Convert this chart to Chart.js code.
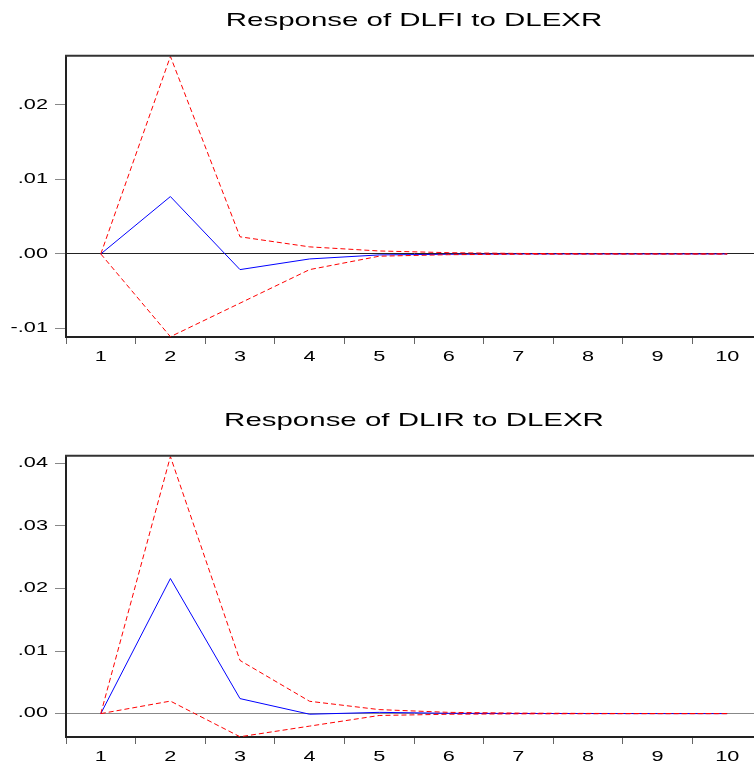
<!DOCTYPE html>
<html>
<head>
<meta charset="utf-8">
<script src="https://cdn.jsdelivr.net/npm/chart.js@4.4.0/dist/chart.umd.min.js"></script>
<style>
  html, body { margin: 0; padding: 0; background: #fff; overflow: hidden; }
  canvas { position: absolute; left: 0; }
  #chartTop { top: 0; }
  #chartBottom { top: 400px; }
</style>
</head>
<body>
<canvas id="chartTop" width="762" height="370"></canvas>
<canvas id="chartBottom" width="762" height="370"></canvas>
<script>
// Impulse responses, periods 1..10
const periods = ['1', '2', '3', '4', '5', '6', '7', '8', '9', '10'];

const dlfiResp  = [0, 0.0077, -0.0021, -0.00067, -0.00013, -0.00004, 0, 0, 0, 0];
const dlfiUpper = [0, 0.0265, 0.0023, 0.00095, 0.0004, 0.00017, 0.00007, 0.00003, 0.00001, 0];
const dlfiLower = [0, -0.0111, -0.0066, -0.0021, -0.0003, -0.0001, -0.00004, -0.00002, -0.00001, 0];

const dlirResp  = [0, 0.0216, 0.0024, -0.0001, 0.0002, 0.00005, 0.00002, 0.00001, 0, 0];
const dlirUpper = [0, 0.0411, 0.0085, 0.00197, 0.00064, 0.0002, 0.00008, 0.00003, 0.00001, 0];
const dlirLower = [0, 0.0020, -0.0037, -0.0020, -0.0003, -0.0001, -0.00004, -0.00002, -0.00001, 0];

// axis ranges
const dlfiRange = [-0.01114, 0.02658];
const dlirRange = [-0.00374, 0.04122];

const FONT = "'Liberation Sans', Arial, sans-serif";
const TEXT_STRETCH = 1.55;   // the source graph has wide, stretched lettering

// draw all canvas text a bit wider, anchored at its own x
function stretchText(canvas) {
  const ctx = canvas.getContext('2d');
  const fill = ctx.fillText.bind(ctx);
  ctx.fillText = function(text, x, y) {
    ctx.save();
    ctx.translate(x, y);
    ctx.scale(TEXT_STRETCH, 1);
    fill(text, 0, 0);
    ctx.restore();
  };
}

// ".02", "-.01" style labels
function fmtTick(v) {
  return Number(v).toFixed(2).replace('0.', '.');
}

const topFrame = {
  id: 'topFrame',
  afterDraw(chart) {
    const { ctx, chartArea } = chart;
    ctx.save();
    ctx.strokeStyle = '#333';
    ctx.lineWidth = 2;
    ctx.beginPath();
    ctx.moveTo(chartArea.left - 1, chartArea.top);
    ctx.lineTo(chartArea.right, chartArea.top);
    ctx.stroke();
    ctx.restore();
  }
};

function renderResponse(canvasId, title, resp, upper, lower, yRange, zeroColor) {
  const canvas = document.getElementById(canvasId);
  stretchText(canvas);

  return new Chart(canvas, {
    type: 'line',
    data: {
      labels: periods,
      datasets: [
        {
          data: upper,
          borderColor: '#ff0000',
          borderWidth: 1,
          borderDash: [5, 3],
          pointRadius: 0,
          tension: 0
        },
        {
          data: lower,
          borderColor: '#ff0000',
          borderWidth: 1,
          borderDash: [5, 3],
          pointRadius: 0,
          tension: 0
        },
        {
          data: resp,
          borderColor: '#0000ff',
          borderWidth: 1,
          pointRadius: 0,
          tension: 0
        }
      ]
    },
    options: {
      responsive: false,
      animation: false,
      devicePixelRatio: 1,
      layout: { padding: 0 },
      plugins: {
        legend: { display: false },
        tooltip: { enabled: false },
        title: {
          display: true,
          fullSize: false,
          text: title,
          color: '#000',
          font: { family: FONT, size: 19, weight: 'normal' },
          padding: { top: 9, bottom: 24 }
        }
      },
      scales: {
        x: {
          offset: true,
          afterFit(scale) { scale.height = 33; },
          border: { color: '#222', width: 2 },
          grid: {
            offset: true,
            drawOnChartArea: false,
            tickLength: 7,
            tickColor: '#666'
          },
          ticks: {
            autoSkip: false,
            maxRotation: 0,
            padding: 5,
            color: '#000',
            font: { family: FONT, size: 14 }
          }
        },
        y: {
          min: yRange[0],
          max: yRange[1],
          afterFit(scale) { scale.width = 66; },
          border: { color: '#222', width: 2 },
          grid: {
            drawOnChartArea: true,
            color: (c) => (c.tick && Math.abs(c.tick.value) < 1e-9) ? zeroColor : 'rgba(0,0,0,0)',
            tickColor: '#888',
            tickLength: 11,
            lineWidth: 1
          },
          ticks: {
            stepSize: 0.01,
            includeBounds: false,
            padding: 7,
            color: '#000',
            font: { family: FONT, size: 14 },
            callback: fmtTick
          }
        }
      }
    },
    plugins: [topFrame]
  });
}

renderResponse('chartTop', 'Response of DLFI to DLEXR', dlfiResp, dlfiUpper, dlfiLower, dlfiRange, '#222');
renderResponse('chartBottom', 'Response of DLIR to DLEXR', dlirResp, dlirUpper, dlirLower, dlirRange, '#888');
</script>
</body>
</html>
